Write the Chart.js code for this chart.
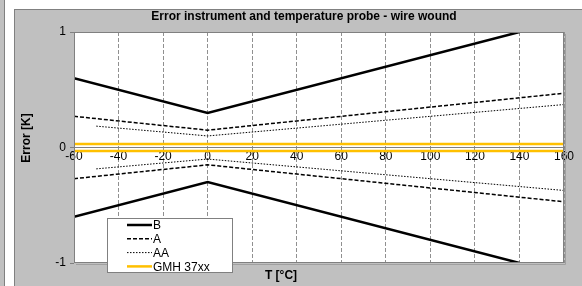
<!DOCTYPE html>
<html>
<head>
<meta charset="utf-8">
<script src="https://cdn.jsdelivr.net/npm/chart.js@4"></script>
<style>
  body { margin: 0; background: #fff; }
  canvas { display: block; }
</style>
</head>
<body>
<canvas id="grafica" width="582" height="286"></canvas>
<script>
// data (tolerance bands, K)
const tempsB = [-60, 0, 140];
const bUpper = [0.6, 0.3, 1.0];
const bLower = [-0.6, -0.3, -1.0];

const tempsA = [-60, 0, 160];
const aUpper = [0.27, 0.15, 0.47];
const aLower = [-0.27, -0.15, -0.47];

const tempsAA = [-50, 0, 160];
const aaUpper = [0.185, 0.1, 0.372];
const aaLower = [-0.185, -0.1, -0.372];

const tempsGMH = [-60, 160];
const gmhUpper = [0.03, 0.03];
const gmhLower = [-0.03, -0.03];

const legendNames = ['B', 'A', 'AA', 'GMH 37xx'];
const titulo = 'Error instrument and temperature probe - wire wound';
const yTitulo = 'Error [K]';
const xTitulo = 'T [°C]';

function pts(xs, ys) {
  return xs.map((x, i) => ({ x: x, y: ys[i] }));
}

const estilos = [
  { color: '#000000', width: 2.5, dash: [] },
  { color: '#000000', width: 1.5, dash: [4, 2] },
  { color: '#000000', width: 1, dash: [1.5, 1.5] },
  { color: '#FFC000', width: 2.5, dash: [] }
];

function serie(xs, ys, e) {
  return {
    data: pts(xs, ys),
    borderColor: e.color,
    borderWidth: e.width,
    borderDash: e.dash,
    pointRadius: 0,
    showLine: true,
    tension: 0,
    fill: false
  };
}

const datasets = [
  serie(tempsB, bUpper, estilos[0]),
  serie(tempsB, bLower, estilos[0]),
  serie(tempsA, aUpper, estilos[1]),
  serie(tempsA, aLower, estilos[1]),
  serie(tempsAA, aaUpper, estilos[2]),
  serie(tempsAA, aaLower, estilos[2]),
  serie(tempsGMH, gmhUpper, estilos[3]),
  serie(tempsGMH, gmhLower, estilos[3])
];

// frame, grey panel, white plot area
const fondo = {
  id: 'fondo',
  beforeDraw(chart) {
    const ctx = chart.ctx;
    const a = chart.chartArea;
    ctx.save();
    ctx.fillStyle = '#ffffff';
    ctx.fillRect(0, 0, chart.width, chart.height);
    ctx.fillStyle = '#c0c0c0';
    ctx.fillRect(0, 0, 4, chart.height);
    ctx.fillRect(14, 9, chart.width - 14, chart.height - 9);
    ctx.fillStyle = '#808080';
    ctx.fillRect(4, 0, 1, chart.height);
    ctx.fillRect(14, 9, 1, chart.height - 9);
    ctx.fillRect(14, 9, chart.width - 14, 1);
    ctx.fillStyle = '#ffffff';
    ctx.fillRect(a.left, a.top, a.right - a.left, a.bottom - a.top);
    ctx.restore();
  },
  afterDraw(chart) {
    const ctx = chart.ctx;
    const a = chart.chartArea;
    ctx.save();
    // plot border
    ctx.strokeStyle = '#808080';
    ctx.lineWidth = 1;
    ctx.strokeRect(a.left + 0.5, a.top + 0.5, a.right - a.left - 1, a.bottom - a.top - 1);
    ctx.strokeStyle = '#a0a0a0';
    ctx.beginPath();
    ctx.moveTo(a.right + 1.5, a.top + 2);
    ctx.lineTo(a.right + 1.5, a.bottom + 1.5);
    ctx.lineTo(a.left + 2, a.bottom + 1.5);
    ctx.stroke();

    // titles
    ctx.fillStyle = '#000';
    ctx.font = 'bold 12px "Liberation Sans", Arial, sans-serif';
    ctx.textAlign = 'center';
    ctx.textBaseline = 'middle';
    ctx.fillText(titulo, 304, 17);
    ctx.fillText(xTitulo, 281, 276);
    ctx.save();
    ctx.translate(27, 138);
    ctx.rotate(-Math.PI / 2);
    ctx.fillText(yTitulo, 0, 0);
    ctx.restore();

    // legend
    const lx = 107, ly = 218, lw = 126, lh = 55;
    ctx.fillStyle = '#ffffff';
    ctx.fillRect(lx, ly, lw, lh);
    ctx.strokeStyle = '#808080';
    ctx.strokeRect(lx + 0.5, ly + 0.5, lw - 1, lh - 1);
    ctx.font = '12px "Liberation Sans", Arial, sans-serif';
    ctx.textAlign = 'left';
    legendNames.forEach((name, i) => {
      const y = 225 + i * 13.8;
      const e = estilos[i];
      ctx.strokeStyle = e.color;
      ctx.lineWidth = e.width;
      ctx.setLineDash(e.dash);
      ctx.beginPath();
      ctx.moveTo(127, y);
      ctx.lineTo(152, y);
      ctx.stroke();
      ctx.setLineDash([]);
      ctx.fillStyle = '#000';
      ctx.fillText(name, 153, y + 1);
    });
    ctx.restore();
  }
};

const config = {
  type: 'scatter',
  data: { datasets: datasets },
  options: {
    responsive: false,
    animation: false,
    layout: { padding: { left: 0, top: 32, right: 18, bottom: 23 } },
    plugins: {
      legend: { display: false },
      title: { display: false },
      tooltip: { enabled: false }
    },
    scales: {
      x: {
        type: 'linear',
        position: { y: 0 },
        min: -60,
        max: 160,
        ticks: {
          stepSize: 20,
          padding: 2,
          color: '#000',
          font: { family: '"Liberation Sans", Arial, sans-serif', size: 12 }
        },
        grid: { color: '#909090', lineWidth: 1, drawTicks: false },
        border: { display: true, color: '#808080', width: 1, dash: [4, 2] }
      },
      y: {
        type: 'linear',
        min: -1,
        max: 1,
        afterFit(scale) { scale.width = 74; },
        ticks: {
          stepSize: 1,
          padding: 4,
          color: '#000',
          font: { family: '"Liberation Sans", Arial, sans-serif', size: 12 }
        },
        grid: { drawOnChartArea: false, tickLength: 4, color: '#808080' },
        border: { display: false }
      }
    }
  },
  plugins: [fondo]
};

const graph = document.getElementById('grafica');
const grafico = new Chart(graph, config);
</script>
</body>
</html>
